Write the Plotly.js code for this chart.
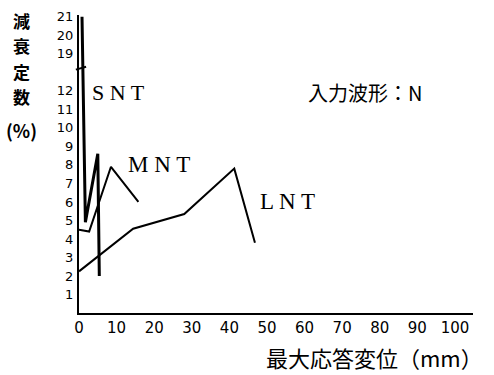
<!DOCTYPE html>
<html>
<head>
<meta charset="utf-8">
<script src="https://cdn.plot.ly/plotly-3.0.1.min.js"></script>
<style>html,body{margin:0;padding:0;background:#fff;}#chart{width:494px;height:375px;}</style>
</head>
<body>
<div id="chart"></div>
<script>
// Data (x: 最大応答変位 mm, y: 減衰定数 %)
const sntX = [0.8, 1.7, 5.0, 5.4];
const sntY = [21, 4.9, 8.6, 2.0];
const mntX = [0, 2.7, 8.5, 15.8];
const mntY = [4.5, 4.4, 7.9, 6.0];
const lntX = [0, 14.4, 28.0, 41.3, 46.8];
const lntY = [2.25, 4.55, 5.35, 7.8, 3.8];
const xTicks = [0, 10, 20, 30, 40, 50, 60, 70, 80, 90, 100];
const yTickValues = [1, 2, 3, 4, 5, 6, 7, 8, 9, 10, 11, 12, 19, 20, 21];
const seriesNames = ['SNT', 'MNT', 'LNT'];
const yTitleChars = ['減', '衰', '定', '数'];

// broken y axis: values above 12 are shifted down (13-18 omitted)
const BREAK_LOW = 12, BREAK_GAP = 5;
const yb = v => (v > BREAK_LOW ? v - BREAK_GAP : v);

const lineStyle = w => ({color: '#000', width: w});
const traces = [
  {x: sntX, y: sntY.map(yb), mode: 'lines', line: lineStyle(3), name: seriesNames[0]},
  {x: mntX, y: mntY.map(yb), mode: 'lines', line: lineStyle(2), name: seriesNames[1]},
  {x: lntX, y: lntY.map(yb), mode: 'lines', line: lineStyle(2), name: seriesNames[2]}
];

const serif = 'Liberation Serif, DejaVu Serif, serif';
const cjk = 'Noto Sans CJK JP, Noto Sans CJK SC, sans-serif';
const tickFont = 'DejaVu Sans, Liberation Sans, sans-serif';

const annotations = [
  {text: 'S N T', x: 10.4, y: 11.9, xref: 'x', yref: 'y', showarrow: false,
   font: {family: serif, size: 22, color: '#000'}},
  {text: 'M N T', x: 21.4, y: 8.05, xref: 'x', yref: 'y', showarrow: false,
   font: {family: serif, size: 23, color: '#000'}},
  {text: 'L N T', x: 55.4, y: 6.0, xref: 'x', yref: 'y', showarrow: false,
   font: {family: serif, size: 23, color: '#000'}},
  {text: '入力波形：N', x: 76, y: 11.9, xref: 'x', yref: 'y', showarrow: false,
   font: {family: cjk, size: 20, color: '#000'}},
  {text: '(%)', x: -0.145, y: 0.614, xref: 'paper', yref: 'paper',
   xanchor: 'center', yanchor: 'middle', showarrow: false,
   font: {family: cjk, size: 18, color: '#000', weight: 700}},
  {text: '最大応答変位（mm）', x: 0.749, y: -0.148, xref: 'paper', yref: 'paper',
   xanchor: 'center', yanchor: 'middle', showarrow: false,
   font: {family: cjk, size: 22, color: '#000'}}
];
// vertical y-axis title, one character per line
yTitleChars.forEach((ch, i) => {
  annotations.push({text: ch, x: -0.145, y: 0.98 - i * 0.084, xref: 'paper', yref: 'paper',
    xanchor: 'center', yanchor: 'middle', showarrow: false,
    font: {family: cjk, size: 17, color: '#000', weight: 700}});
});

const layout = {
  width: 494, height: 375,
  margin: {l: 79, r: 21, t: 15, b: 62},
  paper_bgcolor: '#fff', plot_bgcolor: '#fff',
  showlegend: false,
  xaxis: {
    range: [0, 104.8], showgrid: false, zeroline: false,
    showline: true, linecolor: '#000', linewidth: 2,
    tickvals: xTicks, ticktext: xTicks.map(String), ticks: '',
    tickfont: {family: tickFont, size: 15, color: '#000'}
  },
  yaxis: {
    range: [0, 16.1], showgrid: false, zeroline: false,
    showline: true, linecolor: '#000', linewidth: 2,
    tickvals: yTickValues.map(yb), ticktext: yTickValues.map(String), ticks: '',
    ticklabelstandoff: 1,
    tickfont: {family: tickFont, size: 13, color: '#000'}
  },
  shapes: [
    {type: 'line', xref: 'paper', yref: 'y', x0: -0.008, x1: 0.018, y0: 13.15, y1: 13.3,
     line: {color: '#000', width: 2}}
  ],
  annotations: annotations
};

Plotly.newPlot('chart', traces, layout, {displayModeBar: false, staticPlot: true});
</script>
</body>
</html>
